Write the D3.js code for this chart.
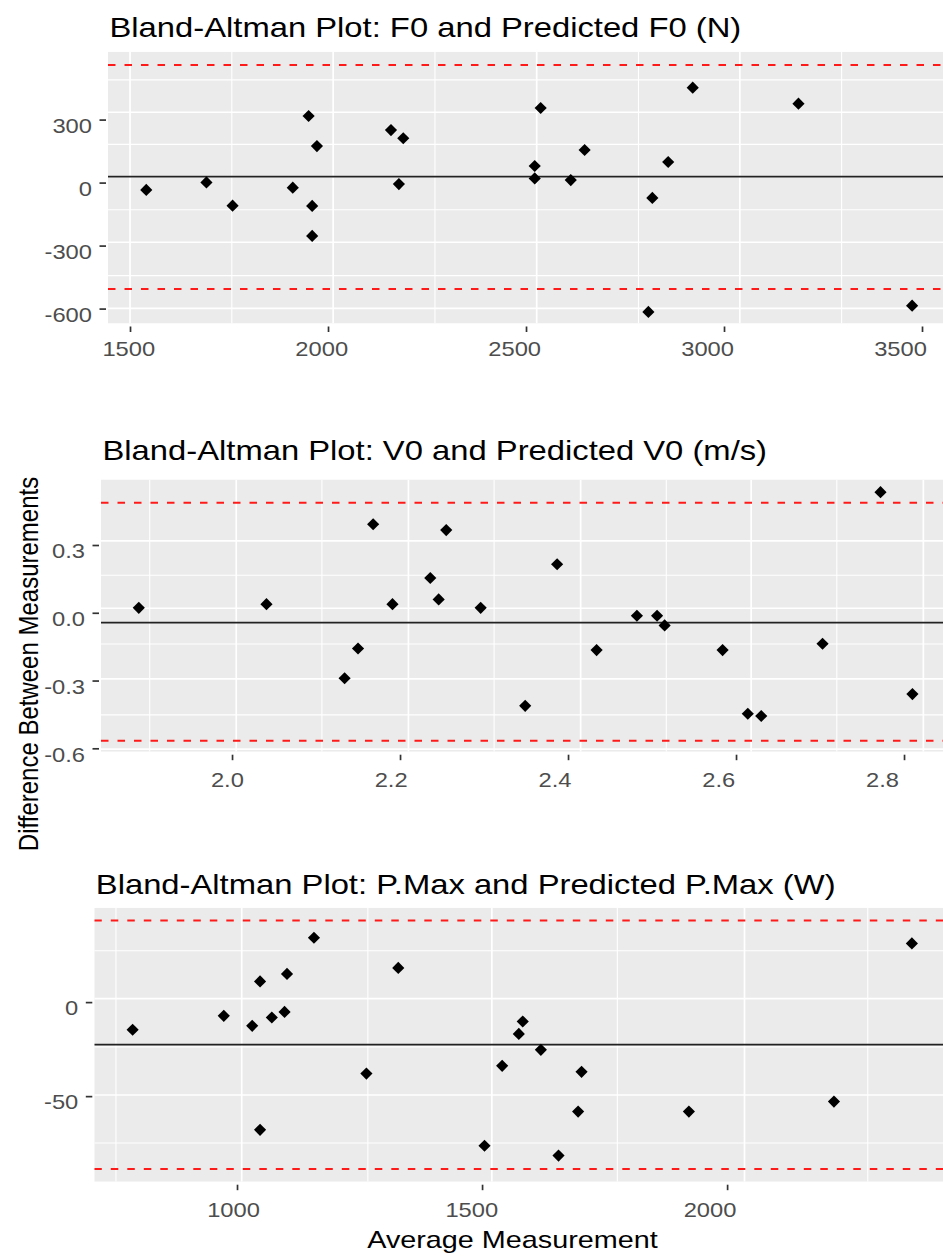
<!DOCTYPE html>
<html><head><meta charset="utf-8">
<script src="https://cdn.jsdelivr.net/npm/d3@7"></script>
<style>
body{margin:0;background:#fff}
svg{display:block}
text{font-family:"Liberation Sans",Arial,Helvetica,sans-serif}
</style>
</head><body>
<svg id="c" width="943" height="1257"></svg>
<script>
// ---------- Panel 1: F0 (N) ----------
const avgF0  = [1541, 1693, 1759, 1911, 1951, 1972, 1960, 1960, 2159, 2190, 2179, 2537, 2522, 2522, 2613, 2648, 2859, 2819, 2921, 2809, 3188, 3475];
const diffF0 = [-35, 1, -110, -24, 317, 174, -111, -254, 250, 211, -7, 355, 79, 20, 12, 155, 98, -73, 452, -616, 376, -586];
const meanF0 = 28;
const loaF0  = [560, -507];
const xTicksF0 = [1500, 2000, 2500, 3000, 3500];
const xLabelsF0 = ["1500", "2000", "2500", "3000", "3500"];
const yTicksF0 = [-600, -300, 0, 300];
const yLabelsF0 = ["-600", "-300", "0", "300"];
const xLimF0 = [1444.4, 3553];
const yLimF0 = [-671, 623.3];
const gridXMajorF0 = [1500, 2013, 2527, 3040];
const gridXMinorF0 = [1757, 2270, 2784, 3297];
const gridYMajorF0 = [-599, -284, 28, 335];
const gridYMinorF0 = [-443, -129, 182, 489];

// ---------- Panel 2: V0 (m/s) ----------
const avgV0  = [1.889, 2.041, 2.134, 2.150, 2.168, 2.191, 2.236, 2.246, 2.255, 2.296, 2.349, 2.387, 2.434, 2.482, 2.506, 2.515, 2.584, 2.614, 2.630, 2.703, 2.772, 2.810];
const diffV0 = [0.022, 0.038, -0.290, -0.158, 0.392, 0.038, 0.154, 0.059, 0.366, 0.022, -0.412, 0.215, -0.165, -0.013, -0.013, -0.056, -0.165, -0.447, -0.457, -0.137, 0.534, -0.360];
const meanV0 = -0.044;
const loaV0  = [0.487, -0.566];
const xTicksV0 = [2.0, 2.2, 2.4, 2.6, 2.8];
const xLabelsV0 = ["2.0", "2.2", "2.4", "2.6", "2.8"];
const yTicksV0 = [-0.6, -0.3, 0.0, 0.3];
const yLabelsV0 = ["-0.6", "-0.3", "0.0", "0.3"];
const xLimV0 = [1.844, 2.8464];
const yLimV0 = [-0.615, 0.590];
const gridXMajorV0 = [2.005, 2.210, 2.415, 2.618, 2.823];
const gridXMinorV0 = [1.902, 2.107, 2.312, 2.517, 2.720];
const gridYMajorV0 = [0.318, 0.020, -0.293, -0.604];
const gridYMinorV0 = [0.166, -0.138, -0.452];

// ---------- Panel 3: P.Max (W) ----------
const avgPM  = [787, 973, 1031, 1047, 1047, 1071, 1097, 1102, 1157, 1264, 1329, 1505, 1541, 1575, 1583, 1620, 1656, 1696, 1703, 1922, 2218, 2377];
const diffPM = [-14.7, -7.3, -12.6, 11.0, -67.9, -8.2, -5.2, 15.0, 34.2, -38.0, 18.2, -76.4, -33.9, -16.9, -10.3, -25.4, -81.6, -58.2, -37.1, -58.2, -52.9, 31.2];
const meanPM = -22.6;
const loaPM  = [43.4, -88.7];
const xTicksPM = [1000, 1500, 2000];
const xLabelsPM = ["1000", "1500", "2000"];
const yTicksPM = [-50, 0];
const yLabelsPM = ["-50", "0"];
const xLimPM = [708.8, 2440.5];
const yLimPM = [-95.5, 50.2];
const gridXMajorPM = [1009.6, 1520, 2035.5];
const gridXMinorPM = [753, 1267, 1776, 2287];
const gridYMajorPM = [1.8, -49.4];
const gridYMinorPM = [27.3, -23.8, -74.9];

const titles = [
  "Bland-Altman Plot: F0 and Predicted F0 (N)",
  "Bland-Altman Plot: V0 and Predicted V0 (m/s)",
  "Bland-Altman Plot: P.Max and Predicted P.Max (W)"
];
const yAxisTitle = "Difference Between Measurements";
const xAxisTitle = "Average Measurement";

// ---------- drawing ----------
const SX = 1.17;     // horizontal stretch of titles
const SXT = 1.13;    // horizontal stretch of tick labels
const svg = d3.select("#c");

function panel(c, idx) {
  const b = c.box;
  const x = d3.scaleLinear().domain(c.xLim).range([b.left, b.right]);
  const y = d3.scaleLinear().domain(c.yLim).range([b.bottom, b.top]);
  const xl = d3.scaleLinear().domain(c.labelDomain).range(c.labelRange); // label anchor positions
  const g = svg.append("g");
  const cid = "clip" + idx;
  g.append("clipPath").attr("id", cid).append("rect")
    .attr("x", b.left).attr("y", b.top).attr("width", b.right - b.left).attr("height", b.bottom - b.top);
  const p = g.append("g").attr("clip-path", `url(#${cid})`);
  p.append("rect").attr("x", b.left).attr("y", b.top)
    .attr("width", b.right - b.left).attr("height", b.bottom - b.top).attr("fill", "#EBEBEB");

  // grid
  p.selectAll(".gxm").data(c.gridXMinor).join("line")
    .attr("x1", d => x(d)).attr("x2", d => x(d)).attr("y1", b.top).attr("y2", b.bottom)
    .attr("stroke", "#fff").attr("stroke-width", 1.1);
  p.selectAll(".gym").data(c.gridYMinor).join("line")
    .attr("y1", d => y(d)).attr("y2", d => y(d)).attr("x1", b.left).attr("x2", b.right)
    .attr("stroke", "#fff").attr("stroke-width", 1.1);
  p.selectAll(".gxM").data(c.gridXMajor).join("line")
    .attr("x1", d => x(d)).attr("x2", d => x(d)).attr("y1", b.top).attr("y2", b.bottom)
    .attr("stroke", "#fff").attr("stroke-width", 1.7);
  p.selectAll(".gyM").data(c.gridYMajor).join("line")
    .attr("y1", d => y(d)).attr("y2", d => y(d)).attr("x1", b.left).attr("x2", b.right)
    .attr("stroke", "#fff").attr("stroke-width", 1.7);

  // mean line
  p.append("line").attr("x1", b.left).attr("x2", b.right)
    .attr("y1", y(c.mean)).attr("y2", y(c.mean))
    .attr("stroke", "#222").attr("stroke-width", 1.8);
  // limits of agreement
  p.selectAll(".loa").data(c.loa).join("line")
    .attr("x1", b.left).attr("x2", b.right)
    .attr("y1", d => y(d)).attr("y2", d => y(d))
    .attr("stroke", "#FF1A1A").attr("stroke-width", 2)
    .attr("stroke-dasharray", "7.5,9");

  // points
  const sym = d3.symbol().type(d3.symbolSquare).size(74);
  p.selectAll(".pt").data(c.avg.map((a, i) => [a, c.diff[i]])).join("path")
    .attr("d", sym)
    .attr("transform", d => `translate(${x(d[0])},${y(d[1])}) rotate(45)`)
    .attr("fill", "#000");

  // x axis
  const gx = g.append("g").attr("transform", `translate(0,${b.bottom + 3})`)
    .call(d3.axisBottom(x).tickValues(c.xTicks).tickFormat((d, i) => c.xLabels[i])
      .tickSizeInner(5.5).tickSizeOuter(0));
  gx.attr("font-family", null).attr("font-size", null);
  gx.select(".domain").remove();
  gx.selectAll(".tick line").attr("stroke", "#333").attr("stroke-width", 1.7);
  gx.selectAll(".tick text")
    .attr("x", d => (xl(d) - x(d)) / SXT)
    .attr("y", c.xLabelY - (b.bottom + 3)).attr("dy", null)
    .attr("transform", `scale(${SXT},1)`)
    .attr("fill", "#4D4D4D").style("font-size", "21px");

  // y axis
  const gy = g.append("g").attr("transform", `translate(${b.left - 2},0)`)
    .call(d3.axisLeft(y).tickValues(c.yTicks).tickFormat((d, i) => c.yLabels[i])
      .tickSizeInner(6.5).tickSizeOuter(0));
  gy.attr("font-family", null).attr("font-size", null);
  gy.select(".domain").remove();
  gy.selectAll(".tick line").attr("stroke", "#333").attr("stroke-width", 1.7);
  gy.selectAll(".tick text")
    .attr("x", -14 / SXT).attr("dy", null).attr("y", 12.8)
    .attr("transform", `scale(${SXT},1)`)
    .attr("fill", "#4D4D4D").style("font-size", "21px");

  // title
  g.append("text")
    .attr("transform", `translate(${b.left + 1.5},${c.titleY}) scale(${SX},1)`)
    .attr("fill", "#000").style("font-size", "28px")
    .text(c.title);
}

panel({avg: avgF0, diff: diffF0, mean: meanF0, loa: loaF0,
  xTicks: xTicksF0, xLabels: xLabelsF0, yTicks: yTicksF0, yLabels: yLabelsF0,
  xLim: xLimF0, yLim: yLimF0,
  gridXMajor: gridXMajorF0, gridXMinor: gridXMinorF0, gridYMajor: gridYMajorF0, gridYMinor: gridYMinorF0,
  labelDomain: [1500, 3500], labelRange: [128.3, 900],
  title: titles[0], titleY: 36.5, xLabelY: 356,
  box: {left: 108, right: 943, top: 51.7, bottom: 323.5}}, 1);

panel({avg: avgV0, diff: diffV0, mean: meanV0, loa: loaV0,
  xTicks: xTicksV0, xLabels: xLabelsV0, yTicks: yTicksV0, yLabels: yLabelsV0,
  xLim: xLimV0, yLim: yLimV0,
  gridXMajor: gridXMajorV0, gridXMinor: gridXMinorV0, gridYMajor: gridYMajorV0, gridYMinor: gridYMinorV0,
  labelDomain: [2.0, 2.8], labelRange: [226.9, 882],
  title: titles[1], titleY: 459.5, xLabelY: 787,
  box: {left: 101, right: 943, top: 479.5, bottom: 751.7}}, 2);

panel({avg: avgPM, diff: diffPM, mean: meanPM, loa: loaPM,
  xTicks: xTicksPM, xLabels: xLabelsPM, yTicks: yTicksPM, yLabels: yLabelsPM,
  xLim: xLimPM, yLim: yLimPM,
  gridXMajor: gridXMajorPM, gridXMinor: gridXMinorPM, gridYMajor: gridYMajorPM, gridYMinor: gridYMinorPM,
  labelDomain: [1000, 2000], labelRange: [233, 709.5],
  title: titles[2], titleY: 893.5, xLabelY: 1217,
  box: {left: 94.3, right: 943, top: 907.7, bottom: 1181.7}}, 3);

// axis titles
svg.append("text")
  .attr("transform", `translate(38,664) scale(${SX},1) rotate(-90)`)
  .attr("text-anchor", "middle").attr("fill", "#000").style("font-size", "24px")
  .text(yAxisTitle);
svg.append("text")
  .attr("transform", `translate(512.5,1248) scale(${SX},1)`)
  .attr("text-anchor", "middle").attr("fill", "#000").style("font-size", "24.6px")
  .text(xAxisTitle);
</script>
</body></html>
